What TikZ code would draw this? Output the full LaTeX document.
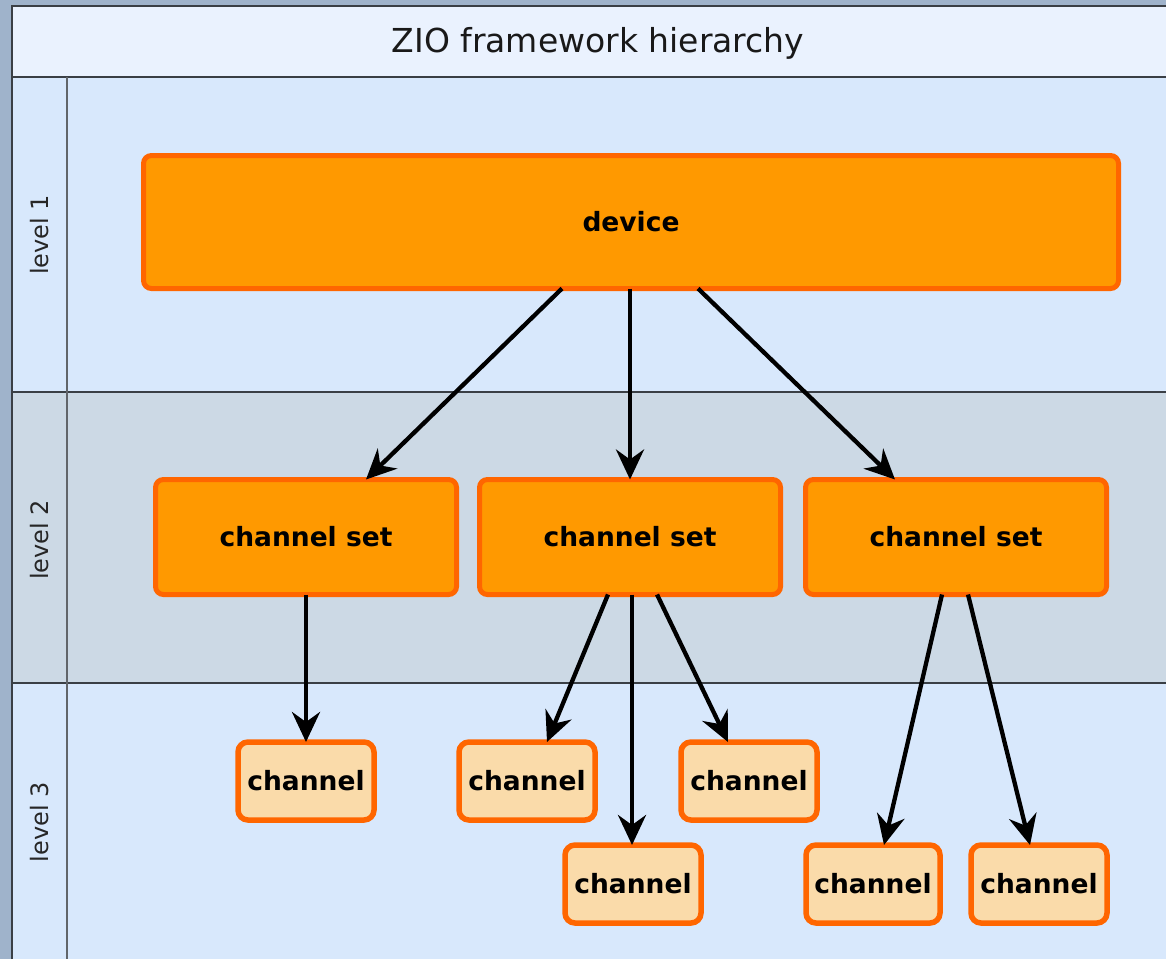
\documentclass[tikz,border=0pt]{standalone}
\usepackage{fontspec}
\setmainfont{DejaVu Sans}
\usetikzlibrary{calc,arrows.meta}
\definecolor{frameblue}{HTML}{9FB3CB}
\definecolor{titlefill}{HTML}{EAF2FE}
\definecolor{lanea}{HTML}{D8E8FC}
\definecolor{laneb}{HTML}{CCD9E5}
\definecolor{gridgray}{HTML}{3A3F45}
\definecolor{orangefill}{HTML}{FF9900}
\definecolor{orangeline}{HTML}{FF6600}
\definecolor{peachfill}{HTML}{FADBAA}
\begin{document}
\begin{tikzpicture}[x=1pt,y=-1pt,
  gridline/.style={draw=gridgray,line width=2.2pt},
  bigbox/.style={draw=orangeline,fill=orangefill,line width=5pt,rounded corners=8pt,
    inner sep=0pt,outer sep=0pt,font=\bfseries\fontsize{26.5}{30}\selectfont},
  chanbox/.style={draw=orangeline,fill=peachfill,line width=5.5pt,rounded corners=10pt,
    inner sep=0pt,outer sep=0pt,minimum width=136pt,minimum height=78pt,
    font=\bfseries\fontsize{26.5}{30}\selectfont},
  lanelabel/.style={rotate=90,font=\fontsize{24}{28}\selectfont,text=black!85},
  arr/.style={draw=black,line width=4.3pt,-{Stealth[length=30pt,width=28pt,inset=10pt]}}
]
\useasboundingbox (0,0) rectangle (1166,959);
% background frame and lanes
\fill[frameblue] (0,0) rectangle (1166,959);
\fill[titlefill] (12,6) rectangle (1166,77);
\fill[lanea] (12,77) rectangle (1166,392);
\fill[laneb] (12,392) rectangle (1166,683);
\fill[lanea] (12,683) rectangle (1166,959);
\draw[gridline] (12,959) -- (12,6) -- (1166,6);
\draw[gridline] (12,77) -- (1166,77);
\draw[gridline] (12,392) -- (1166,392);
\draw[gridline] (12,683) -- (1166,683);
\draw[gridline,draw=gridgray!80] (67,77) -- (67,959);
% title and lane labels
\node[font=\fontsize{33}{38}\selectfont,text=black!90] (title) at (598,43) {ZIO framework hierarchy};
\node[lanelabel] (l1) at (40,235) {level 1};
\node[lanelabel] (l2) at (40,540) {level 2};
\node[lanelabel] (l3) at (40,822) {level 3};
% nodes
\node[bigbox,minimum width=975pt,minimum height=133pt] (dev) at (631,222) {device};
\node[bigbox,minimum width=301pt,minimum height=115pt] (cs1) at (306,537) {channel set};
\node[bigbox,minimum width=301pt,minimum height=115pt] (cs2) at (630,537) {channel set};
\node[bigbox,minimum width=301pt,minimum height=115pt] (cs3) at (956,537) {channel set};
\node[chanbox] (ch1) at (306,781) {channel};
\node[chanbox] (ch2) at (527,781) {channel};
\node[chanbox] (ch3) at (749,781) {channel};
\node[chanbox] (ch4) at (633,884) {channel};
\node[chanbox,minimum width=134pt] (ch5) at (873,884) {channel};
\node[chanbox] (ch6) at (1039,884) {channel};
% connectors
\draw[arr] ($(dev.south)+(-69,0)$) -- ($(cs1.north)+(60,0)$);
\draw[arr] ($(dev.south)+(-1,0)$) -- ($(cs2.north)+(0,0)$);
\draw[arr] ($(dev.south)+(67,0)$) -- ($(cs3.north)+(-61,0)$);
\draw[arr] (cs1.south) -- (ch1.north);
\draw[arr] ($(cs2.south)+(-22,0)$) -- ($(ch2.north)+(20,0)$);
\draw[arr] ($(cs2.south)+(2,0)$) -- ($(ch4.north)+(-1,0)$);
\draw[arr] ($(cs2.south)+(27,0)$) -- ($(ch3.north)+(-21,0)$);
\draw[arr] ($(cs3.south)+(-14,0)$) -- ($(ch5.north)+(11,0)$);
\draw[arr] ($(cs3.south)+(12,0)$) -- ($(ch6.north)+(-9,0)$);
\end{tikzpicture}
\end{document}
